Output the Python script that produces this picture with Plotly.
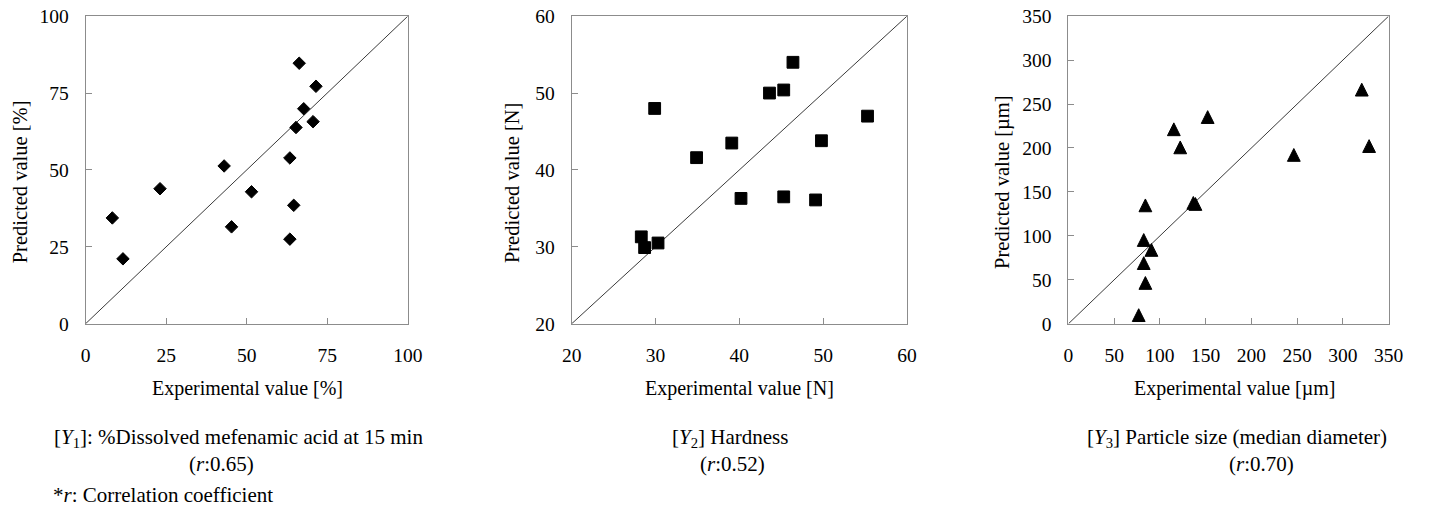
import plotly.graph_objects as go

# Y1: % dissolved mefenamic acid at 15 min
y1_exp = [8.3, 11.6, 23.1, 43.0, 45.3, 51.5, 63.4, 63.4, 64.6, 65.3, 66.3, 67.7, 70.6, 71.5]
y1_pred = [34.4, 21.1, 43.9, 51.3, 31.5, 42.9, 53.9, 27.5, 38.5, 63.8, 84.7, 69.9, 65.7, 77.2]

# Y2: hardness [N]
y2_exp = [28.3, 28.7, 30.3, 29.9, 34.9, 39.1, 40.2, 43.6, 45.3, 46.4, 45.3, 49.1, 49.8, 55.3]
y2_pred = [31.3, 29.9, 30.5, 48.0, 41.6, 43.5, 36.3, 50.0, 50.4, 54.0, 36.5, 36.1, 43.8, 47.0]

# Y3: particle size (median diameter) [um]
y3_exp = [76.8, 84.1, 82.3, 90.7, 82.3, 84.1, 136.5, 138.8, 115.2, 122.2, 152.2, 246.4, 320.7, 328.7]
y3_pred = [9.8, 46.4, 69.0, 84.0, 95.3, 134.7, 137.5, 136.3, 221.3, 200.7, 235.2, 192.1, 266.4, 202.2]

# axis ranges and ticks
ranges = [[0, 100], [20, 60], [0, 350]]
ticks = [[0, 25, 50, 75, 100], [20, 30, 40, 50, 60], [0, 50, 100, 150, 200, 250, 300, 350]]

x_titles = ["Experimental value [%]", "Experimental value [N]", "Experimental value [µm]"]
y_titles = ["Predicted value [%]", "Predicted value [N]", "Predicted value [µm]"]
captions = [
    "[<i>Y</i><sub>1</sub>]: %Dissolved mefenamic acid at 15 min",
    "[<i>Y</i><sub>2</sub>] Hardness",
    "[<i>Y</i><sub>3</sub>] Particle size (median diameter)",
]
r_labels = ["(<i>r</i>:0.65)", "(<i>r</i>:0.52)", "(<i>r</i>:0.70)"]
footnote = "*<i>r</i>: Correlation coefficient"

W, H = 1429, 511
BODY = 8                      # default page margin around the figure div
SX = (W + 2 * BODY) / W       # page width  / target width
SY = (H + 2 * BODY) / H       # page height / target height
FONT = "Liberation Serif, Times New Roman, serif"


def fx(px):
    """target x pixel -> paper fraction of the figure"""
    return (px * SX - BODY) / W


def fy(py):
    """target y pixel (from top) -> paper fraction of the figure"""
    return 1 - (py * SY - BODY) / H


# panel boxes in target pixels: (left, right), shared top/bottom
x_px = [(84, 408.3), (573.3, 910.7), (1073.3, 1395.5)]
top_px, bot_px = 14, 325

fig = go.Figure()

series = [
    (y1_exp, y1_pred, dict(symbol="diamond", size=9.6, color="black",
                           line=dict(color="black", width=1))),
    (y2_exp, y2_pred, dict(symbol="square", size=11.8, color="black",
                           line=dict(color="black", width=1))),
    # arrow-down turned over gives an upright triangle; standoff centres it
    (y3_exp, y3_pred, dict(symbol="arrow-down", angle=180, size=12.8, standoff=6.4,
                           color="black", line=dict(color="black", width=1))),
]

for i, (xs, ys, mk) in enumerate(series):
    ax = "" if i == 0 else str(i + 1)
    lo, hi = ranges[i]
    # 1:1 reference line
    fig.add_trace(go.Scatter(
        x=[lo, hi], y=[lo, hi], mode="lines",
        line=dict(color="#3a3a3a", width=1),
        xaxis="x" + ax, yaxis="y" + ax, hoverinfo="skip", showlegend=False,
    ))
    fig.add_trace(go.Scatter(
        x=xs, y=ys, mode="markers", marker=mk,
        xaxis="x" + ax, yaxis="y" + ax, showlegend=False, cliponaxis=False,
    ))

    common = dict(
        range=ranges[i], tickvals=ticks[i], ticks="inside", ticklen=6,
        tickwidth=1, tickcolor="#8c8c8c", showline=True, mirror=True,
        linecolor="#8c8c8c", linewidth=1, showgrid=False, zeroline=False,
        tickfont=dict(family=FONT, size=19.5, color="black"),
        ticklabeloverflow="allow", fixedrange=True,
    )
    left, right = x_px[i]
    fig.layout["xaxis" + ax] = dict(
        common, domain=[fx(left), fx(right)], anchor="y" + ax,
        ticklabelstandoff=14,
    )
    fig.layout["yaxis" + ax] = dict(
        common, domain=[fy(bot_px), fy(top_px)], anchor="x" + ax,
        ticklabelstandoff=12,
    )

annotations = []


def note(text, px, py, angle=0, xanchor="center", size=20):
    annotations.append(dict(
        text=text, x=fx(px), y=fy(py), xref="paper", yref="paper",
        xanchor=xanchor, yanchor="middle", textangle=angle, showarrow=False,
        font=dict(family=FONT, size=size, color="black"),
    ))


y_title_x = [18, 514, 1007]
x_title_cx = [247, 742, 1240]
cap_cx = [238, 733, 1243]
r_cx = [221, 735, 1268]

for i in range(3):
    note(y_titles[i], y_title_x[i], 182, angle=-90, size=20.5)
    note(x_titles[i], x_title_cx[i], 391)
    note(captions[i], cap_cx[i], 441, size=21)
    note(r_labels[i], r_cx[i], 467, size=21)

note(footnote, 49, 498, xanchor="left", size=21)

fig.update_layout(
    width=W, height=H, autosize=False, margin=dict(l=0, r=0, t=0, b=0),
    paper_bgcolor="white", plot_bgcolor="white",
    font=dict(family=FONT, color="black"),
    annotations=annotations, showlegend=False,
)

fig.write_html("out.html", config={"displayModeBar": False})
